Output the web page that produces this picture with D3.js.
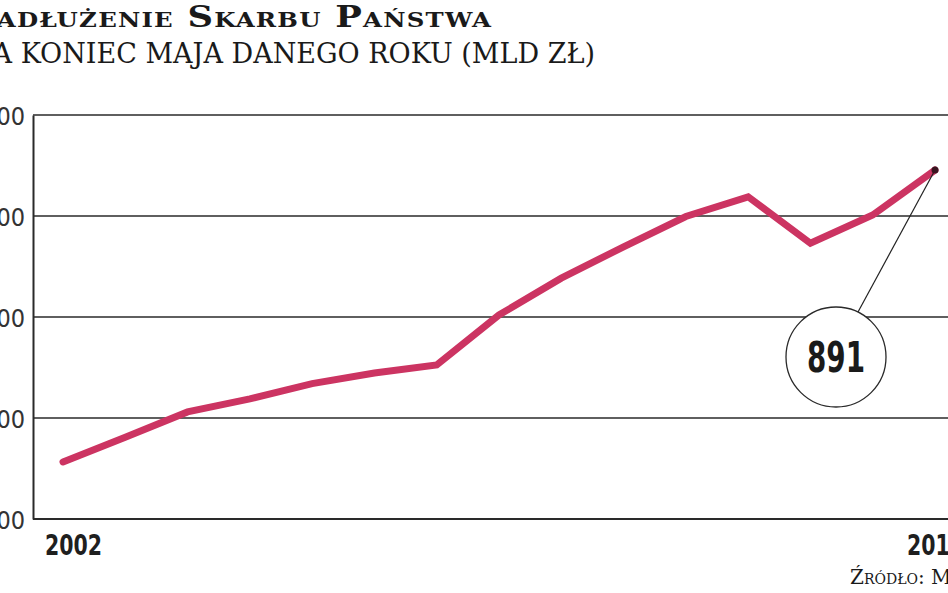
<!DOCTYPE html>
<html>
<head>
<meta charset="utf-8">
<script src="https://cdn.jsdelivr.net/npm/d3@7/dist/d3.min.js"></script>
<style>
  html, body { margin: 0; padding: 0; background: #fff; overflow: hidden; }
  #wrap { position: relative; width: 948px; height: 593px; overflow: hidden; }
  .title { position: absolute; white-space: nowrap; font-family: "DejaVu Serif", serif; color: #1a1a1a; }
  #t1 { right: 456px; top: 0px; font-size: 29px; font-weight: bold; font-variant: small-caps; letter-spacing: 1px; transform: scaleX(1.22); transform-origin: right center; }
  #t2 { right: 353px; top: 38px; font-size: 27px; text-transform: uppercase; }
  #src { left: 850px; top: 565px; font-size: 20px; font-variant: small-caps; }
  svg { position: absolute; left: 0; top: 0; }
</style>
</head>
<body>
<div id="wrap">
  <svg id="chart" width="948" height="593"></svg>
  <div class="title" id="t1">Zadłużenie Skarbu Państwa</div>
  <div class="title" id="t2">Na koniec maja danego roku (mld zł)</div>
  <div class="title" id="src">Źródło: MF</div>
</div>
<script>
const years = [2002,2003,2004,2005,2006,2007,2008,2009,2010,2011,2012,2013,2014,2015,2016];
const debt  = [313, 362, 412, 438, 468, 489, 505, 604, 677, 739, 799, 838, 746, 802, 891];
const yTicks = [200, 400, 600, 800, 1000];
const xLabels = [2002, 2016];
const highlightValue = 891;

const svg = d3.select("#chart");
const x = d3.scaleLinear().domain([2002, 2016]).range([63, 935]);
const y = d3.scaleLinear().domain([200, 1000]).range([519, 115]);

// y axis
const yAxis = d3.axisLeft(y).tickValues(yTicks).tickSize(0).tickPadding(8);
const gAxis = svg.append("g").attr("transform", "translate(33,0)").call(yAxis);
gAxis.select(".domain").attr("stroke", "#2a2a2a").attr("stroke-width", 2);
gAxis.selectAll("text")
  .attr("font-family", "DejaVu Sans Condensed, DejaVu Sans, sans-serif")
  .attr("font-size", 25)
  .attr("fill", "#333")
  .attr("dy", "0.36em");

// gridlines
svg.append("g").selectAll("line").data(yTicks).join("line")
  .attr("x1", 33).attr("x2", 948)
  .attr("y1", d => y(d)).attr("y2", d => y(d))
  .attr("stroke", "#2a2a2a")
  .attr("stroke-width", d => d === 200 ? 2.2 : 1.6);

// x labels
svg.append("g").selectAll("text").data(xLabels).join("text")
  .attr("x", d => d === 2002 ? x(d) - 18 : x(d) - 28)
  .attr("y", 555)
  .attr("font-family", "DejaVu Sans Condensed, DejaVu Sans, sans-serif")
  .attr("font-weight", "bold")
  .attr("font-size", 29)
  .attr("textLength", 57)
  .attr("lengthAdjust", "spacingAndGlyphs")
  .attr("fill", "#1f1f1f")
  .text(d => d);

// line
const line = d3.line().x((d, i) => x(years[i])).y(d => y(d));
svg.append("path")
  .datum(debt)
  .attr("d", line)
  .attr("fill", "none")
  .attr("stroke", "#cc3462")
  .attr("stroke-width", 7)
  .attr("stroke-linejoin", "miter")
  .attr("stroke-linecap", "round");

// callout
const last = debt.length - 1;
const px = x(years[last]), py = y(debt[last]);
const cx = 836, cy = 357, r = 50;
svg.append("line")
  .attr("x1", px).attr("y1", py)
  .attr("x2", cx + 22).attr("y2", cy - 45)
  .attr("stroke", "#222").attr("stroke-width", 1.2);
svg.append("circle").attr("cx", px).attr("cy", py).attr("r", 3.5).attr("fill", "#3a1420");
svg.append("circle").attr("cx", cx).attr("cy", cy).attr("r", r)
  .attr("fill", "#fff").attr("stroke", "#2a2a2a").attr("stroke-width", 1.3);
svg.append("text")
  .attr("x", cx).attr("y", cy + 15)
  .attr("text-anchor", "middle")
  .attr("font-family", "DejaVu Sans Condensed, DejaVu Sans, sans-serif")
  .attr("font-weight", "bold")
  .attr("font-size", 42)
  .attr("textLength", 58)
  .attr("lengthAdjust", "spacingAndGlyphs")
  .attr("fill", "#1a1a1a")
  .text(highlightValue);
</script>
</body>
</html>
